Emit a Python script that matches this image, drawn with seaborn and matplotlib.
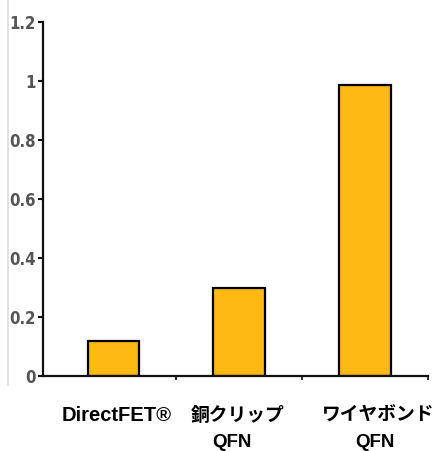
import matplotlib
matplotlib.use("Agg")
import matplotlib.pyplot as plt
import matplotlib.transforms as mtransforms
from matplotlib.lines import Line2D
import seaborn as sns
import pandas as pd

categories = ["DirectFET®", "銅クリップ\nQFN", "ワイヤボンド\nQFN"]
values = [0.12, 0.30, 0.985]
yticks = [0, 0.2, 0.4, 0.6, 0.8, 1, 1.2]
ytick_labels = ["0", "0.2", "0.4", "0.6", "0.8", "1", "1.2"]

sns.set_theme(style="white")
plt.rcParams['font.family'] = ['Liberation Sans', 'Noto Sans CJK JP', 'DejaVu Sans']

df = pd.DataFrame({"cat": categories, "val": values})

fig = plt.figure(figsize=(4.35, 4.51), dpi=100)
ax = fig.add_axes([43/435, 1-376/451, (428-43)/435, (376-22)/451])

sns.barplot(data=df, x="cat", y="val", color="#FDB913", saturation=1,
            edgecolor="black", linewidth=1.6, width=0.41, ax=ax)

ax.set_xlim(-0.56, 2.5)
ax.set_ylim(0, 1.2)
ax.set_xlabel("")
ax.set_ylabel("")
sns.despine(ax=ax)
for s in ["left", "bottom"]:
    ax.spines[s].set_linewidth(1.6)
    ax.spines[s].set_color("#111111")

ax.set_yticks(yticks)
ax.set_yticklabels(ytick_labels, fontsize=12, color="#555555", fontweight="bold",
                   family=['Liberation Sans Narrow', 'DejaVu Sans'], fontstretch='condensed')
ax.tick_params(axis="y", which="major", left=True, length=3.5, width=1.5, color="#111111", pad=2)

ax.set_xticks([0.5, 1.5, 2.5])
ax.set_xticklabels(["", "", ""])
ax.tick_params(axis="x", which="major", bottom=True, length=3, width=1.5, color="#333333")

# category labels, drawn per line below the axis
line_dx = [[3], [-2, -7], [13, 10]]     # horizontal pixel nudges per line
line_dy = [-45, -71]                     # baseline offsets below the axis (pixels)
sizes = [[14.5], [13.5, 13.5], [13.5, 13.5]]
trans_x = ax.get_xaxis_transform()
for i, cat in enumerate(categories):
    for j, line in enumerate(cat.split("\n")):
        tr = trans_x + mtransforms.ScaledTranslation(line_dx[i][j]/100, line_dy[j]/100,
                                                     fig.dpi_scale_trans)
        ax.text(i, 0, line, transform=tr, ha="center", va="baseline",
                fontsize=sizes[i][j], fontweight="bold", color="black", clip_on=False)

fig.add_artist(Line2D([8/435, 8/435], [1-385/451, 1.0], transform=fig.transFigure,
                      color="#dddddd", linewidth=1.2))

fig.savefig("out.png", dpi=100)
